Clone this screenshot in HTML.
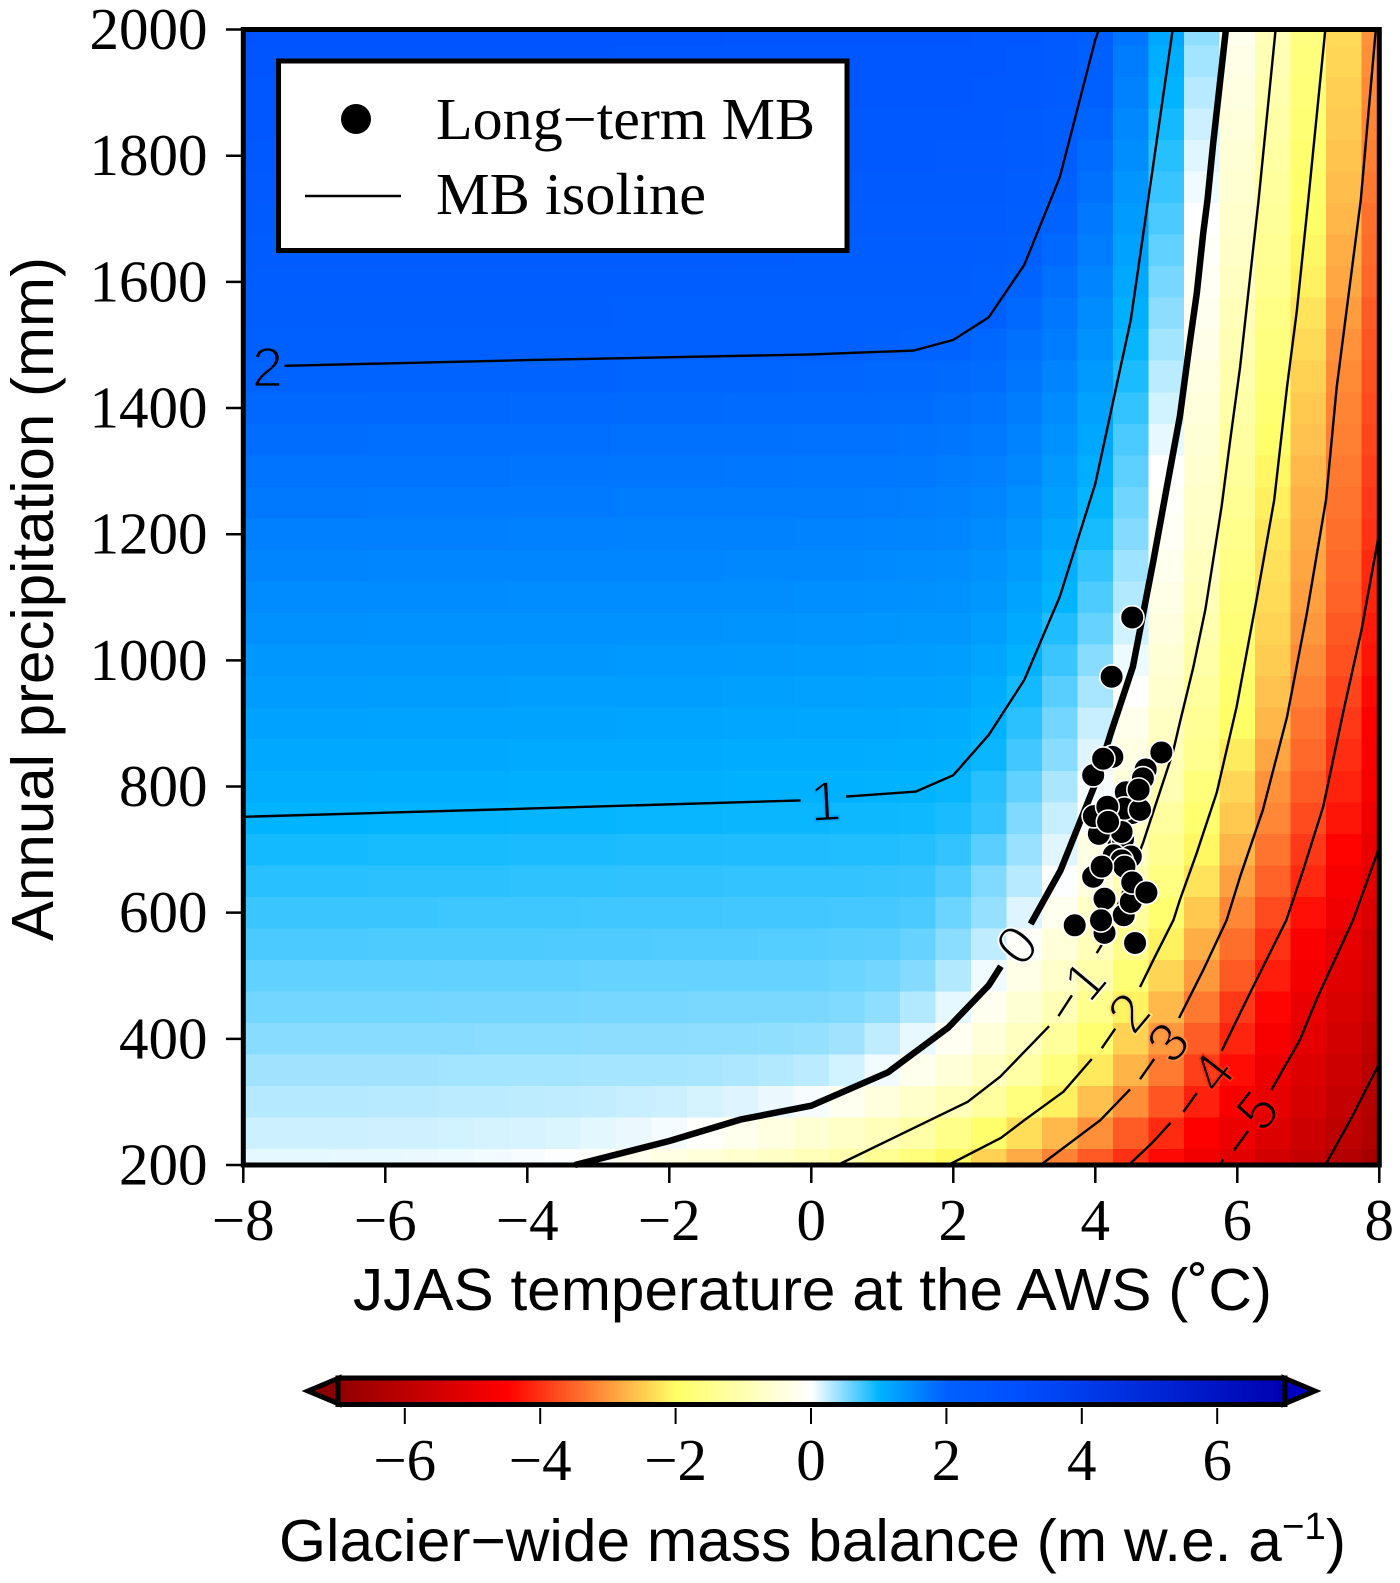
<!DOCTYPE html>
<html lang="en">
<head>
<meta charset="utf-8">
<title>Glacier-wide mass balance sensitivity</title>
<style>
html,body{margin:0;padding:0;background:#fff}
svg{display:block}
.serif{font-family:"Liberation Serif",serif;fill:#000}
.sans{font-family:"Liberation Sans",sans-serif;fill:#000}
</style>
</head>
<body>
<svg id="chart" xmlns="http://www.w3.org/2000/svg" width="1400" height="1583" viewBox="0 0 1400 1583">
  <defs>
    <linearGradient id="cbGrad" x1="0" x2="1" y1="0" y2="0"></linearGradient>
  </defs>
  <g id="cells" shape-rendering="crispEdges"></g>
  <g id="contours" fill="none" stroke="#000" stroke-linejoin="round"></g>
  <g id="clabels"></g>
  <g id="points"></g>
  <rect x="243.3" y="29.5" width="1136" height="1135.5" fill="none" stroke="#000" stroke-width="5"/>
  <g id="xaxis"></g>
  <g id="yaxis"></g>
  <text class="sans" font-size="59.6" text-anchor="middle" transform="translate(53,599) rotate(-90)" textLength="684" lengthAdjust="spacingAndGlyphs">Annual precipitation (mm)</text>
  <text class="sans" font-size="59.6" x="353" y="1310" textLength="919" lengthAdjust="spacingAndGlyphs">JJAS temperature at the AWS (˚C)</text>

  <g>
    <rect x="278.5" y="61" width="568.5" height="189.5" fill="#fff" stroke="#000" stroke-width="5"/>
    <circle cx="356" cy="119" r="15" fill="#000"/>
    <text class="serif" font-size="59" x="436" y="139" textLength="379" lengthAdjust="spacingAndGlyphs">Long−term MB</text>
    <line x1="305" x2="401" y1="196" y2="196" stroke="#000" stroke-width="2.4"/>
    <text class="serif" font-size="59" x="436" y="214" textLength="270" lengthAdjust="spacingAndGlyphs">MB isoline</text>
  </g>

  <g>
    <polygon points="339,1378 339,1404 308,1391" fill="#8b0000" stroke="#000" stroke-width="5" stroke-linejoin="miter"/>
    <polygon points="1284,1378 1284,1404 1315,1391" fill="#0000c0" stroke="#000" stroke-width="5" stroke-linejoin="miter"/>
    <rect x="338" y="1378" width="947" height="26.5" fill="url(#cbGrad)" stroke="#000" stroke-width="5"/>
    <g id="cbticks"></g>
    <text class="sans" font-size="59.6" x="279" y="1561" textLength="1067" lengthAdjust="spacingAndGlyphs">Glacier−wide mass balance (m w.e. a<tspan font-size="38" dy="-22">−1</tspan><tspan dy="22">)</tspan></text>
  </g>
</svg>
<script>
/* ---------- axis data ---------- */
const xTickValues = [-8,-6,-4,-2,0,2,4,6,8];
const xTickLabels = ["−8","−6","−4","−2","0","2","4","6","8"];
const yTickValues = [200,400,600,800,1000,1200,1400,1600,1800,2000];
const yTickLabels = ["200","400","600","800","1000","1200","1400","1600","1800","2000"];
const cbTickValues = [-6,-4,-2,0,2,4,6];
const cbTickLabels = ["−6","−4","−2","0","2","4","6"];

/* ---------- heatmap data: mass balance (m w.e./a) ---------- */
const temperatures = [-8,-7.5,-7,-6.5,-6,-5.5,-5,-4.5,-4,-3.5,-3,-2.5,-2,-1.5,-1,-.5,0,.5,1,1.5,2,2.5,3,3.5,4,4.5,5,5.5,6,6.5,7,7.5,8];
const precipitations = [200,250,300,350,400,450,500,550,600,650,700,750,800,850,900,950,1000,1050,1100,1150,1200,1250,1300,1350,1400,1450,1500,1550,1600,1650,1700,1750,1800,1850,1900,1950,2000];
const massBalance = [
[.1,.1,.1,.09,.09,.08,.07,.05, .03,.01,-.08,-.22,-.36,-.49,-.63,-.76, -.9,-1.08,-1.4,-1.72,-2.05,-2.44,-2.82,-3.22, -3.62,-4.02,-4.41,-4.8,-5.16,-5.5,-5.84,-6.18,-6.5],
[.2,.2,.2,.2,.19,.19,.18,.17, .16,.14,.11,.08,.04,-.05,-.22,-.39, -.56,-.73,-.9,-1.15,-1.54,-1.92,-2.31,-2.69, -3.1,-3.6,-4.08,-4.5,-4.92,-5.29,-5.64,-6,-6.3],
[.29,.29,.29,.29,.28,.28,.27,.27, .26,.25,.24,.22,.2,.17,.13,.08, .03,-.19,-.43,-.67,-.9,-1.26,-1.7,-2.14, -2.62,-3.11,-3.67,-4.18,-4.64,-5.07,-5.44,-5.81,-6.2],
[.37,.37,.37,.37,.37,.37,.36,.36, .36,.36,.35,.35,.35,.34,.32,.3, .27,.18,.05,-.23,-.51,-.8,-1.16,-1.68, -2.21,-2.74,-3.29,-3.88,-4.38,-4.86,-5.27,-5.65,-6.04],
[.47,.47,.47,.47,.47,.47,.47,.46, .46,.46,.45,.45,.45,.44,.44,.43, .41,.37,.25,.09,-.17,-.5,-.83,-1.29, -1.88,-2.44,-3,-3.59,-4.15,-4.65,-5.12,-5.52,-5.92],
[.55,.55,.55,.55,.55,.55,.54,.54, .54,.54,.53,.53,.53,.52,.52,.52, .52,.5,.44,.3,.1,-.19,-.56,-.93, -1.5,-2.12,-2.7,-3.31,-3.94,-4.45,-4.95,-5.36,-5.76],
[.62,.62,.62,.62,.62,.62,.61,.61, .61,.61,.6,.6,.6,.6,.6,.6, .6,.58,.55,.48,.3,.06,-.31,-.69, -1.13,-1.8,-2.41,-3,-3.62,-4.21,-4.74,-5.2,-5.6],
[.71,.71,.71,.71,.7,.7,.7,.7, .7,.69,.69,.69,.68,.68,.68,.67, .67,.66,.65,.6,.46,.25,-.08,-.5, -.92,-1.5,-2.13,-2.8,-3.41,-4,-4.58,-5.05,-5.5],
[.77,.77,.77,.77,.77,.77,.76,.76, .76,.76,.75,.75,.75,.75,.74,.74, .74,.73,.73,.71,.58,.41,.13,-.2, -.7,-1.25,-1.88,-2.53,-3.18,-3.76,-4.35,-4.85,-5.3],
[.84,.84,.84,.84,.83,.83,.83,.83, .82,.82,.82,.81,.81,.81,.8,.8, .8,.8,.79,.78,.69,.5,.28,.01, -.45,-1,-1.63,-2.27,-2.93,-3.53,-4.11,-4.67,-5.12],
[.92,.92,.92,.92,.91,.91,.91,.91, .9,.9,.9,.89,.89,.89,.88,.88, .88,.87,.87,.86,.8,.65,.4,.12, -.35,-.85,-1.44,-2.07,-2.73,-3.35,-3.94,-4.47,-5],
[1,1,1,1,.99,.99,.99,.99, .98,.98,.98,.97,.97,.97,.96,.96, .96,.95,.95,.94,.9,.8,.5,.22, -.08,-.67,-1.25,-1.88,-2.53,-3.18,-3.76,-4.3,-4.8],
[1.08,1.08,1.08,1.08,1.07,1.07,1.07,1.07, 1.06,1.06,1.06,1.05,1.05,1.05,1.04,1.04, 1.03,1.03,1.02,1.01,.97,.85,.62,.33, .03,-.5,-1,-1.71,-2.4,-3.07,-3.6,-4.17,-4.7],
[1.14,1.14,1.14,1.14,1.13,1.13,1.13,1.13, 1.12,1.12,1.12,1.11,1.11,1.11,1.1,1.1, 1.09,1.09,1.08,1.07,1.05,.96,.74,.47, .13,-.37,-.9,-1.47,-2.2,-2.87,-3.47,-4.05,-4.6],
[1.21,1.21,1.21,1.21,1.2,1.2,1.2,1.2, 1.19,1.19,1.19,1.18,1.18,1.18,1.17,1.17, 1.16,1.16,1.15,1.14,1.12,1.03,.83,.55, .22,-.26,-.79,-1.38,-2,-2.71,-3.35,-3.94,-4.53],
[1.28,1.28,1.28,1.28,1.27,1.27,1.27,1.27, 1.26,1.26,1.26,1.25,1.25,1.25,1.24,1.24, 1.23,1.23,1.22,1.21,1.19,1.1,.92,.66, .34,-.03,-.65,-1.27,-1.93,-2.6,-3.24,-3.82,-4.41],
[1.35,1.35,1.35,1.35,1.34,1.34,1.34,1.34, 1.33,1.33,1.33,1.32,1.32,1.32,1.31,1.31, 1.3,1.3,1.29,1.28,1.26,1.18,1.02,.77, .47,.07,-.53,-1.14,-1.86,-2.5,-3.12,-3.71,-4.3],
[1.42,1.42,1.42,1.42,1.41,1.41,1.41,1.41, 1.4,1.4,1.4,1.39,1.39,1.39,1.38,1.38, 1.37,1.37,1.36,1.35,1.33,1.26,1.12,.88, .6,.18,-.42,-1.03,-1.78,-2.42,-3.02,-3.63,-4.25],
[1.49,1.49,1.49,1.49,1.48,1.48,1.48,1.48, 1.47,1.47,1.47,1.46,1.46,1.46,1.45,1.45, 1.44,1.44,1.43,1.42,1.4,1.34,1.2,1, .7,.3,-.31,-.94,-1.69,-2.35,-2.94,-3.53,-4.15],
[1.56,1.56,1.56,1.56,1.55,1.55,1.55,1.55, 1.54,1.54,1.54,1.53,1.53,1.53,1.52,1.52, 1.51,1.51,1.5,1.49,1.47,1.41,1.29,1.08, .8,.38,-.22,-.84,-1.6,-2.3,-2.88,-3.46,-4.1],
[1.63,1.63,1.63,1.63,1.62,1.62,1.62,1.62, 1.61,1.61,1.61,1.6,1.6,1.6,1.59,1.59, 1.58,1.58,1.57,1.56,1.54,1.49,1.37,1.17, .91,.48,-.13,-.75,-1.5,-2.24,-2.82,-3.41,-4],
[1.7,1.7,1.7,1.7,1.69,1.69,1.69,1.69, 1.68,1.68,1.68,1.67,1.67,1.67,1.66,1.66, 1.65,1.65,1.64,1.63,1.6,1.55,1.44,1.25, .98,.56,-.06,-.69,-1.4,-2.15,-2.76,-3.35,-3.94],
[1.77,1.77,1.77,1.77,1.76,1.76,1.76,1.76, 1.75,1.75,1.75,1.74,1.74,1.74,1.73,1.73, 1.72,1.72,1.71,1.7,1.67,1.62,1.51,1.32, 1.07,.63,0,-.63,-1.31,-2.08,-2.7,-3.3,-3.88],
[1.84,1.84,1.84,1.84,1.83,1.83,1.83,1.83, 1.82,1.82,1.82,1.81,1.81,1.81,1.8,1.8, 1.79,1.79,1.78,1.77,1.74,1.69,1.58,1.4, 1.15,.71,.09,-.55,-1.22,-1.96,-2.6,-3.25,-3.82],
[1.91,1.91,1.91,1.91,1.9,1.9,1.9,1.9, 1.89,1.89,1.89,1.88,1.88,1.88,1.87,1.87, 1.86,1.86,1.85,1.84,1.81,1.76,1.66,1.48, 1.23,.8,.18,-.47,-1.14,-1.86,-2.53,-3.2,-3.76],
[1.98,1.98,1.98,1.98,1.97,1.97,1.97,1.97, 1.96,1.96,1.96,1.95,1.95,1.95,1.94,1.94, 1.93,1.93,1.92,1.91,1.88,1.84,1.74,1.57, 1.31,.9,.27,-.38,-1.07,-1.75,-2.44,-3.14,-3.72],
[2.05,2.05,2.05,2.05,2.04,2.04,2.04,2.04, 2.03,2.03,2.03,2.02,2.02,2.02,2.01,2.01, 2,2,1.99,1.98,1.96,1.91,1.81,1.65, 1.4,.97,.36,-.29,-1,-1.67,-2.36,-3.07,-3.67],
[2.12,2.12,2.12,2.12,2.11,2.11,2.11,2.11, 2.1,2.1,2.1,2.09,2.09,2.09,2.08,2.08, 2.07,2.07,2.06,2.06,2.05,2,1.89,1.73, 1.49,1.05,.45,-.2,-.9,-1.58,-2.26,-2.97,-3.6],
[2.19,2.19,2.19,2.19,2.18,2.18,2.18,2.18, 2.17,2.17,2.17,2.16,2.16,2.16,2.15,2.15, 2.14,2.14,2.13,2.13,2.12,2.08,1.97,1.81, 1.57,1.13,.53,-.13,-.8,-1.47,-2.14,-2.86,-3.5],
[2.26,2.26,2.26,2.26,2.25,2.25,2.25,2.25, 2.24,2.24,2.24,2.23,2.23,2.23,2.22,2.22, 2.21,2.21,2.2,2.2,2.19,2.15,2.05,1.89, 1.64,1.22,.62,-.07,-.73,-1.4,-2.07,-2.79,-3.45],
[2.33,2.33,2.33,2.33,2.32,2.32,2.32,2.32, 2.31,2.31,2.31,2.3,2.3,2.3,2.29,2.29, 2.28,2.28,2.27,2.27,2.26,2.22,2.12,1.96, 1.72,1.3,.71,0,-.67,-1.33,-2,-2.71,-3.4],
[2.4,2.4,2.4,2.4,2.39,2.39,2.39,2.39, 2.38,2.38,2.38,2.37,2.37,2.37,2.36,2.36, 2.35,2.35,2.34,2.34,2.33,2.29,2.2,2.05, 1.8,1.37,.78,.06,-.6,-1.27,-1.96,-2.65,-3.32],
[2.47,2.47,2.47,2.47,2.46,2.46,2.46,2.46, 2.45,2.45,2.45,2.44,2.44,2.44,2.43,2.43, 2.42,2.42,2.41,2.41,2.4,2.36,2.27,2.12, 1.87,1.45,.85,.12,-.53,-1.2,-1.89,-2.58,-3.25],
[2.54,2.54,2.54,2.54,2.53,2.53,2.53,2.53, 2.52,2.52,2.52,2.51,2.51,2.51,2.5,2.5, 2.49,2.49,2.48,2.48,2.47,2.43,2.34,2.19, 1.94,1.52,.92,.2,-.46,-1.14,-1.83,-2.52,-3.2],
[2.61,2.61,2.61,2.61,2.6,2.6,2.6,2.6, 2.59,2.59,2.59,2.58,2.58,2.58,2.57,2.57, 2.56,2.56,2.55,2.55,2.54,2.5,2.41,2.26, 2.01,1.6,1,.28,-.38,-1.07,-1.77,-2.47,-3.16],
[2.68,2.68,2.68,2.68,2.67,2.67,2.67,2.67, 2.66,2.66,2.66,2.65,2.65,2.65,2.64,2.64, 2.63,2.63,2.62,2.62,2.61,2.57,2.48,2.33, 2.08,1.67,1.07,.36,-.31,-1,-1.71,-2.4,-3.11],
[2.75,2.75,2.75,2.75,2.74,2.74,2.74,2.74, 2.73,2.73,2.73,2.72,2.72,2.72,2.71,2.71, 2.7,2.7,2.69,2.69,2.68,2.64,2.55,2.4, 2.15,1.75,1.15,.44,-.24,-.94,-1.67,-2.37,-3.07]
];

/* ---------- colour scale ---------- */
const colorLevels = [-7,-4.5,-2,0,1,2,3,7];
const colorRed   = [145,255,255,255,0,0,0,0];
const colorGreen = [0,0,255,255,180,96,80,0];
const colorBlue  = [0,0,102,255,255,255,255,176];

/* ---------- isolines: vertices in temperature / precipitation ---------- */
const isolineLevels = ["2","1a","1b","0a","0b","m1a","m1b","m1c","m2a","m2b","m2c","m3a","m3b","m3c","m4a","m4b","m4c","m5a","m5b","m5c","m6"];
const isolineT = {
  "2":[-7.42,-4,0,1.44,2,2.5,3,3.5,4,4.05],
  "1a":[-8,-4,-.15],
  "1b":[.49,1.47,2,2.5,3,3.5,4,4.5,4.8,5.09],
  "0a":[-3.33,-2,-1,0,1.08,1.93,2.5,2.67],
  "0b":[3.09,3.51,3.98,4.22,4.53,4.82,5,5.19,5.33,5.43,5.52,5.58,5.66,5.84],
  "m1a":[.37,1.25,2.2,2.66,3.35],
  "m1b":[3.48,3.67],
  "m1c":[4.02,4.09,4.67,5.09,5.19,5.38,5.55,5.66,5.78,5.9,6.04,6.18,6.3,6.54],
  "m2a":[1.93,2.67,3,3.55,3.95],
  "m2b":[4.09,4.28],
  "m2c":[4.63,4.84,5.1,5.19,5.43,5.71,5.99,6.27,6.52,6.7,6.84,7,7.24],
  "m3a":[3.23,4.07,4.49],
  "m3b":[4.63,4.83],
  "m3c":[5.18,5.52,5.85,6.04,6.36,6.7,6.98,7.25,7.4,7.54,7.74,7.95],
  "m4a":[4.47,4.8,5.06],
  "m4b":[5.24,5.43],
  "m4c":[5.78,6.22,6.69,6.93,7.21,7.49,7.75,8],
  "m5a":[5.76,5.8],
  "m5b":[5.95,6.15],
  "m5c":[6.48,6.88,7.13,7.63,7.82,8],
  "m6":[7.24,7.6,8]
};
const isolineP = {
  "2":[1467,1476,1485,1491,1508,1544,1627,1766,1984,2000],
  "1a":[752,765,778],
  "1b":[784,792,818,882,969,1101,1280,1540,1773,2000],
  "0a":[200,238,272,294,347,418,485,515],
  "0b":[582,667,799,885,990,1159,1270,1386,1503,1582,1677,1730,1820,2000],
  "m1a":[200,248,300,340,420],
  "m1b":[436,469],
  "m1c":[536,549,710,853,901,989,1080,1159,1245,1349,1465,1608,1730,2000],
  "m2a":[200,243,271,316,368],
  "m2b":[385,416],
  "m2c":[482,530,588,620,695,790,926,1096,1254,1433,1555,1730,2000],
  "m3a":[200,271,320],
  "m3b":[336,368],
  "m3c":[433,509,588,657,763,910,1075,1254,1433,1555,1730,2000],
  "m4a":[200,235,267],
  "m4b":[284,314],
  "m4c":[381,482,588,668,768,917,1048,1203],
  "m5a":[200,209],
  "m5b":[223,254],
  "m5c":[319,398,466,588,647,704],
  "m6":[200,273,361]
};
const boldIsolines = ["0a","0b"];

const labelTexts = ["2","1","0","1","2","3","4","5"];
const labelT = [-7.66,.2,2.89,3.85,4.47,5.02,5.65,6.28];
const labelP = [1465,777,549,493,442,395,347,287];
const labelAngles = [0,-3,-50,-50,-50,-50,-52,-52];
const labelHalo = ["#0060ff","#00a8ff","#f8fcff","#ffffd8","#ffe070","#ff8c46","#ff2a10","#ff0000"];

/* ---------- long-term mass balance points ---------- */
const pointT = [4.52,4.23,4.24,3.97,4.11,4.93,4.71,4.67,4.43,4.52,4.41,4.63,4.61,4.33,4.39,4.37,4.05,3.98,4.17,4.18,4.26,4.5,4.37,4.41,3.97,4.09,4.13,4.4,4.5,4.52,4.72,4.13,4.08,3.71,4.56];
const pointP = [1068,974,847,818,844,854,827,813,791,758,765,763,795,710,716,728,725,753,768,744,691,689,683,673,657,673,622,596,617,648,632,568,588,580,552];

/* ---------- scales ---------- */
const xScale = t => 811.3 + 71 * t;
const yScale = p => 1165 - (p - 200) * 0.6308;
const cbScale = v => 811 + 67.7 * v;
const NS = "http://www.w3.org/2000/svg";

function make(tag, attrs, parent) {
  const el = document.createElementNS(NS, tag);
  for (const k in attrs) el.setAttribute(k, attrs[k]);
  parent.appendChild(el);
  return el;
}
function colorFor(v) {
  const n = colorLevels.length;
  if (v <= colorLevels[0]) return `rgb(${colorRed[0]},${colorGreen[0]},${colorBlue[0]})`;
  for (let i = 1; i < n; i++) {
    if (v <= colorLevels[i]) {
      const f = (v - colorLevels[i-1]) / (colorLevels[i] - colorLevels[i-1]);
      const r = Math.round(colorRed[i-1] + f * (colorRed[i] - colorRed[i-1]));
      const g = Math.round(colorGreen[i-1] + f * (colorGreen[i] - colorGreen[i-1]));
      const b = Math.round(colorBlue[i-1] + f * (colorBlue[i] - colorBlue[i-1]));
      return `rgb(${r},${g},${b})`;
    }
  }
  return `rgb(${colorRed[n-1]},${colorGreen[n-1]},${colorBlue[n-1]})`;
}

/* heatmap */
const cellsG = document.getElementById("cells");
massBalance.forEach((row, ri) => {
  const p = precipitations[ri];
  const yTop = yScale(Math.min(p + 25, 2000));
  const yBot = yScale(Math.max(p - 25, 200));
  row.forEach((v, ci) => {
    const t = temperatures[ci];
    const xL = xScale(Math.max(t - .25, -8));
    const xR = xScale(Math.min(t + .25, 8));
    const r = make("rect", {x: xL, y: yTop, width: xR - xL, height: yBot - yTop, fill: colorFor(v)}, cellsG);
    
    
  });
});

/* isolines */
const contoursG = document.getElementById("contours");
isolineLevels.forEach(key => {
  const d = isolineT[key].map((t, i) => `${i ? "L" : "M"}${xScale(t).toFixed(1)} ${yScale(isolineP[key][i]).toFixed(1)}`).join("");
  const bold = boldIsolines.includes(key);
  const path = make("path", {d: d, "stroke-width": bold ? 6.5 : 2.4}, contoursG);
  
  
});

/* isoline labels: a background-coloured outline thins the glyphs */
const labelsG = document.getElementById("clabels");
labelTexts.forEach((s, i) => {
  const x = xScale(labelT[i]), y = yScale(labelP[i]);
  const t = make("text", {class: "sans", "font-size": 56, "text-anchor": "middle", dy: "0.35em",
    stroke: labelHalo[i], "stroke-width": 1.8, "paint-order": "fill",
    transform: `translate(${x},${y}) rotate(${labelAngles[i]})`}, labelsG);
  t.textContent = s;
  
  
});

/* points */
const pointsG = document.getElementById("points");
pointT.forEach((t, i) => {
  const c = make("circle", {cx: xScale(t), cy: yScale(pointP[i]), r: 11.8, fill: "#000", stroke: "#fff", "stroke-width": 1.6}, pointsG);
  
  
});

/* x axis */
const xG = document.getElementById("xaxis");
xTickValues.forEach((v, i) => {
  const x = xScale(v);
  const l = make("line", {x1: x, x2: x, y1: 1165, y2: 1183, stroke: "#000", "stroke-width": 2.5}, xG);
  
  
  const t = make("text", {class: "serif", x: x, y: 1240, "font-size": 59, "text-anchor": "middle"}, xG);
  t.textContent = xTickLabels[i];
  
  
});

/* y axis */
const yG = document.getElementById("yaxis");
yTickValues.forEach((v, i) => {
  const y = yScale(v);
  const l = make("line", {x1: 226, x2: 244, y1: y, y2: y, stroke: "#000", "stroke-width": 2.5}, yG);
  
  
  const t = make("text", {class: "serif", x: 207.5, y: y + 19.5, "font-size": 59, "text-anchor": "end"}, yG);
  t.textContent = yTickLabels[i];
  
  
});

/* colour bar */
const grad = document.getElementById("cbGrad");
colorLevels.forEach((lv, i) => {
  make("stop", {offset: (lv + 7) / 14, "stop-color": `rgb(${colorRed[i]},${colorGreen[i]},${colorBlue[i]})`}, grad);
});
const cbG = document.getElementById("cbticks");
cbTickValues.forEach((v, i) => {
  const x = cbScale(v);
  const l = make("line", {x1: x, x2: x, y1: 1408, y2: 1424, stroke: "#000", "stroke-width": 2}, cbG);
  
  
  const t = make("text", {class: "serif", x: x, y: 1480, "font-size": 59, "text-anchor": "middle"}, cbG);
  t.textContent = cbTickLabels[i];
  
  
});
</script>
</body>
</html>
